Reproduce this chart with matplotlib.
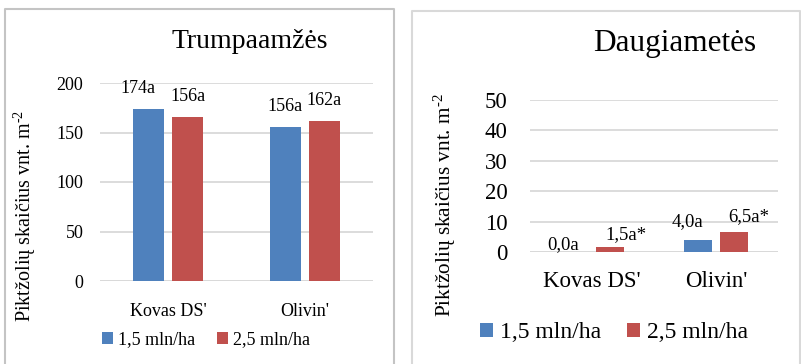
import matplotlib
matplotlib.use('Agg')
import matplotlib.pyplot as plt
from matplotlib.lines import Line2D
import numpy as np

plt.rcParams['font.family'] = ['Liberation Serif', 'DejaVu Serif']
plt.rcParams['mathtext.fontset'] = 'custom'
plt.rcParams['mathtext.rm'] = 'Liberation Serif'
plt.rcParams['mathtext.it'] = 'Liberation Serif'

# --- Data ---
categories = ["Kovas DS'", "Olivin'"]
series_names = ['1,5 mln/ha', '2,5 mln/ha']

short_blue = [174, 156]
short_red = [166, 162]
short_blue_lbl = ['174a', '156a']
short_red_lbl = ['156a', '162a']

perennial_blue = [0.0, 4.0]
perennial_red = [1.5, 6.5]
perennial_blue_lbl = ['0,0a', '4,0a']
perennial_red_lbl = ['1,5a*', '6,5a*']

ylabel = r'Piktžolių skaičius vnt. m$^{\text{-2}}$'

BLUE = '#4f81bd'
RED = '#c0504d'
GRID = '#d9d9d9'
W, H = 801, 364

fig = plt.figure(figsize=(W / 100, H / 100), dpi=100)


def px_axes(x0, x1, ytop, ybot):
    return fig.add_axes([x0 / W, 1 - ybot / H, (x1 - x0) / W, (ybot - ytop) / H])


def border(x0, x1, ytop, color):
    pts = [(x0, H + 5), (x0, ytop), (x1, ytop), (x1, H + 5)]
    xs = [p[0] / W for p in pts]
    ys = [1 - p[1] / H for p in pts]
    fig.add_artist(Line2D(xs, ys, color=color, lw=1.5, transform=fig.transFigure))


def draw_panel(ax, blue, red, blue_lbl, red_lbl, ymax, step, tick_fs, cat_fs, lbl_fs,
               lbl_offsets, tick_pad, cat_pad):
    x = np.arange(len(categories))
    bw = 0.227
    off = bw / 2 + 0.03
    b1 = ax.bar(x - off, blue, bw, color=BLUE, zorder=3)
    b2 = ax.bar(x + off, red, bw, color=RED, zorder=3)
    ax.set_xlim(-0.5, 1.5)
    ax.set_ylim(0, ymax)
    ax.set_yticks(np.arange(0, ymax + 1, step))
    ax.set_xticks(x)
    ax.set_xticklabels(categories)
    for s in ax.spines.values():
        s.set_visible(False)
    ax.yaxis.grid(True, color=GRID, lw=1.3, zorder=0)
    ax.axhline(0, color=GRID, lw=1.3, zorder=1)
    ax.tick_params(axis='y', length=0, labelsize=tick_fs, pad=tick_pad)
    ax.tick_params(axis='x', length=0, labelsize=cat_fs, pad=cat_pad)
    k = 0
    for bars, labels in ((b1, blue_lbl), (b2, red_lbl)):
        for rect, txt in zip(bars, labels):
            dx, dy = lbl_offsets[k]
            k += 1
            ax.annotate(txt, (rect.get_x() + rect.get_width() / 2, rect.get_height()),
                        xytext=(dx, dy), textcoords='offset pixels',
                        ha='center', va='center', fontsize=lbl_fs)
    return b1, b2


# --- Left panel: Trumpaamžės ---
border(5, 394, 9, '#c4c4c4')
ax1 = px_axes(100, 373, 83, 281)
h1 = draw_panel(ax1, short_blue, short_red, short_blue_lbl, short_red_lbl, 200, 50,
                13, 13, 13, [(-11, 20), (0, 20), (0, 20), (0, 20)], 12, 16)
fig.text(250 / W, 1 - 42 / H, 'Trumpaamžės', ha='center', va='center', fontsize=20)
fig.text(25 / W, 1 - 216 / H, ylabel, rotation=90,
         ha='center', va='center', fontsize=14.5)
fig.legend(h1, series_names, loc='center', bbox_to_anchor=(206 / W, 1 - 340 / H),
           ncol=2, frameon=False, fontsize=13, handlelength=0.6, handleheight=0.6,
           handletextpad=0.3, columnspacing=1.2)

# --- Right panel: Daugiametės ---
border(412, 800, 11, '#d9d9d9')
ax2 = px_axes(530, 778, 100, 252)
h2 = draw_panel(ax2, perennial_blue, perennial_red, perennial_blue_lbl, perennial_red_lbl,
                50, 10, 16.5, 16.5, 13.5, [(-11, 7), (-11, 18), (16, 13), (15, 16)], 16, 14)
fig.text(675 / W, 1 - 43 / H, 'Daugiametės', ha='center', va='center', fontsize=22.5)
fig.text(445 / W, 1 - 205 / H, ylabel, rotation=90,
         ha='center', va='center', fontsize=15.3)
fig.legend(h2, series_names, loc='center', bbox_to_anchor=(614 / W, 1 - 333 / H),
           ncol=2, frameon=False, fontsize=17, handlelength=0.55, handleheight=0.55,
           handletextpad=0.3, columnspacing=1.1)

fig.savefig('out.png', dpi=100, facecolor='white')
